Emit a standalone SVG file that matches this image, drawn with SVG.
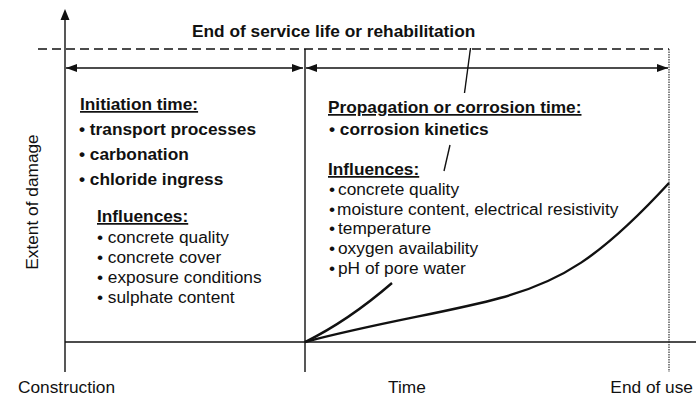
<svg xmlns="http://www.w3.org/2000/svg" width="696" height="398" viewBox="0 0 696 398">
<style>
text{font-family:"Liberation Sans",Arial,sans-serif;fill:#111;font-size:17.3px}
.b{font-weight:bold}
.u{text-decoration:underline}
.ln{stroke:#111;stroke-width:1.4;fill:none}
.thin{stroke:#222;stroke-width:1.1;fill:none}
.curve{stroke:#111;stroke-width:2.4;fill:none}
</style>
<defs>
<marker id="ah" viewBox="0 0 11 8" refX="11" refY="4" markerWidth="11" markerHeight="8" markerUnits="userSpaceOnUse" orient="auto-start-reverse">
<path d="M0,0 L11,4 L0,8 Z" fill="#111"/>
</marker>
</defs>
<rect width="696" height="398" fill="#fff"/>
<g id="frame">
<line class="ln" x1="65" y1="372" x2="65" y2="18"/>
<path d="M65,9 L60.5,20 L69.5,20 Z" fill="#111"/>
<line class="ln" x1="65" y1="342" x2="696" y2="342"/>
<line class="ln" x1="38" y1="49" x2="669" y2="49" stroke-dasharray="9 5"/>
<line class="ln" x1="305" y1="49" x2="305" y2="372"/>
<line class="thin" x1="669" y1="49" x2="669" y2="372" stroke-dasharray="1.5 1"/>
</g>
<g id="connectors">
<line class="ln" x1="66" y1="68" x2="303" y2="68" marker-start="url(#ah)" marker-end="url(#ah)"/>
<line class="ln" x1="306" y1="68" x2="668" y2="68" marker-start="url(#ah)" marker-end="url(#ah)"/>
<line class="ln" x1="470.5" y1="48" x2="464.5" y2="93" stroke-width="2"/>
<line class="ln" x1="450" y1="145" x2="444" y2="171" stroke-width="2"/>
<path class="curve" d="M305,342 C380,322 450,312 500,298 C560,282 600,258 669,183"/>
<path class="curve" d="M305,342 Q348,321 392,283"/>
</g>
<g id="title">
<text class="b" x="192" y="37">End of service life or rehabilitation</text>
</g>
<g id="initiation">
<text class="b u" x="80" y="110">Initiation time:</text>
<text class="b" x="79" y="135">• transport processes</text>
<text class="b" x="79" y="160">• carbonation</text>
<text class="b" x="79" y="185">• chloride ingress</text>
<text class="b u" x="97" y="222">Influences:</text>
<text x="97" y="243">• concrete quality</text>
<text x="97" y="263">• concrete cover</text>
<text x="97" y="283">• exposure conditions</text>
<text x="97" y="303">• sulphate content</text>
</g>
<g id="propagation">
<text class="b u" x="328" y="113">Propagation or corrosion time:</text>
<text class="b" x="329" y="135">• corrosion kinetics</text>
<text class="b u" x="328" y="175">Influences:</text>
<text y="195"><tspan x="329">•</tspan><tspan x="338">concrete quality</tspan></text>
<text y="215"><tspan x="329">•</tspan><tspan x="337">moisture content, electrical resistivity</tspan></text>
<text y="234"><tspan x="329">•</tspan><tspan x="338">temperature</tspan></text>
<text y="254"><tspan x="329">•</tspan><tspan x="338">oxygen availability</tspan></text>
<text y="274"><tspan x="329">•</tspan><tspan x="338">pH of pore water</tspan></text>
</g>
<g id="axis-labels">
<text x="38" y="202" text-anchor="middle" transform="rotate(-90 38 202)">Extent of damage</text>
<text x="18" y="393">Construction</text>
<text x="388" y="393">Time</text>
<text x="693" y="393" text-anchor="end">End of use</text>
</g>
</svg>
